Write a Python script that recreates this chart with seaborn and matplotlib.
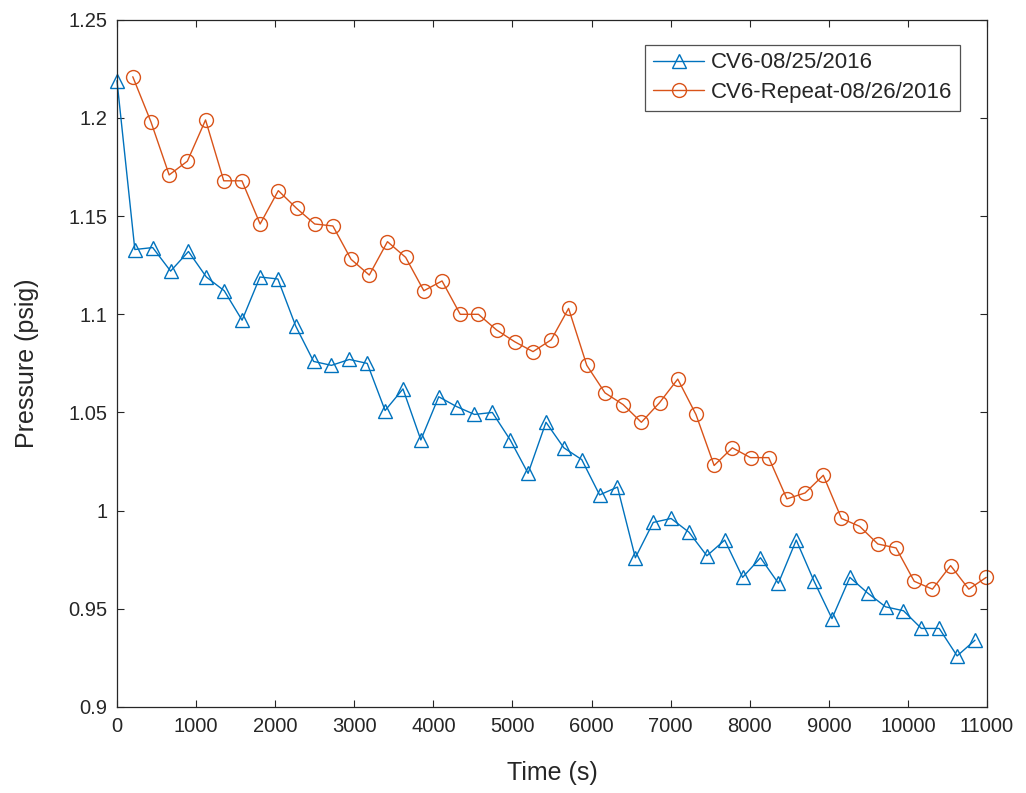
import numpy as np
import pandas as pd
import matplotlib
matplotlib.use("Agg")
import matplotlib.pyplot as plt
import seaborn as sns

# time (s) and pressure (psig)
t_run1 = [0, 226, 452, 678, 904, 1130, 1356, 1582, 1808, 2034, 2260, 2486, 2712,
          2938, 3164, 3390, 3616, 3842, 4068, 4294, 4520, 4746, 4972, 5198, 5424,
          5650, 5876, 6102, 6328, 6554, 6780, 7006, 7232, 7458, 7684, 7910, 8136,
          8362, 8588, 8814, 9040, 9266, 9492, 9718, 9944, 10170, 10396, 10622, 10848]
p_run1 = [1.219, 1.133, 1.134, 1.122, 1.132, 1.119, 1.112, 1.097, 1.119, 1.118,
          1.094, 1.076, 1.074, 1.077, 1.075, 1.051, 1.062, 1.036, 1.058, 1.053,
          1.049, 1.050, 1.036, 1.019, 1.045, 1.032, 1.026, 1.008, 1.012, 0.976,
          0.994, 0.996, 0.989, 0.977, 0.985, 0.966, 0.976, 0.963, 0.985, 0.964,
          0.945, 0.966, 0.958, 0.951, 0.949, 0.940, 0.940, 0.926, 0.934]

t_run2 = [200, 430, 660, 890, 1120, 1350, 1580, 1810, 2040, 2270, 2500, 2730,
          2960, 3190, 3420, 3650, 3880, 4110, 4340, 4570, 4800, 5030, 5260, 5490,
          5710, 5940, 6170, 6400, 6630, 6860, 7090, 7320, 7550, 7780, 8010, 8240,
          8470, 8700, 8930, 9160, 9390, 9620, 9850, 10080, 10310, 10540, 10770, 10990]
p_run2 = [1.221, 1.198, 1.171, 1.178, 1.199, 1.168, 1.168, 1.146, 1.163, 1.154,
          1.146, 1.145, 1.128, 1.120, 1.137, 1.129, 1.112, 1.117, 1.100, 1.100,
          1.092, 1.086, 1.081, 1.087, 1.103, 1.074, 1.060, 1.054, 1.045, 1.055,
          1.067, 1.049, 1.023, 1.032, 1.027, 1.027, 1.006, 1.009, 1.018, 0.996,
          0.992, 0.983, 0.981, 0.964, 0.960, 0.972, 0.960, 0.966]

label_run1 = "CV6-08/25/2016"
label_run2 = "CV6-Repeat-08/26/2016"

sns.set_style("ticks")
plt.rcParams['font.family'] = ['Liberation Sans', 'DejaVu Sans']

fig = plt.figure(figsize=(10.26, 7.93), dpi=100)
ax = fig.add_axes([0.114, 0.1085, 0.848, 0.8665])

blue = "#0072BD"
orange = "#D95319"

df1 = pd.DataFrame({"t": t_run1, "p": p_run1})
df2 = pd.DataFrame({"t": t_run2, "p": p_run2})

sns.lineplot(data=df1, x="t", y="p", ax=ax, color=blue, marker="^", markersize=10,
             markerfacecolor="none", markeredgecolor=blue, markeredgewidth=1.0,
             linewidth=1.0, label=label_run1, clip_on=False)
sns.lineplot(data=df2, x="t", y="p", ax=ax, color=orange, marker="o", markersize=10,
             markerfacecolor="none", markeredgecolor=orange, markeredgewidth=1.0,
             linewidth=1.0, label=label_run2, clip_on=False)

ax.set_xlim(0, 11000)
ax.set_ylim(0.9, 1.25)
ax.set_xticks(range(0, 11001, 1000))
ax.set_yticks([0.9, 0.95, 1.0, 1.05, 1.1, 1.15, 1.2, 1.25])
ax.set_yticklabels(["0.9", "0.95", "1", "1.05", "1.1", "1.15", "1.2", "1.25"])

txt = "#262626"
ax.tick_params(direction="in", length=5, width=0.8, top=True, right=True,
               labelsize=14.5, colors=txt, pad=7)
ax.tick_params(axis="both", colors="#262626", labelcolor=txt)
for s in ax.spines.values():
    s.set_color("#262626")
    s.set_linewidth(0.9)
    s.set_visible(True)

ax.set_xlabel("Time (s)", fontsize=18, color=txt, labelpad=18)
ax.set_ylabel("Pressure (psig)", fontsize=18, color=txt, labelpad=21)

leg = ax.legend(loc="upper right", bbox_to_anchor=(0.969, 0.964), fontsize=16,
                fancybox=False, frameon=True, borderpad=0.35, handlelength=2.3,
                labelspacing=0.4, handletextpad=0.3, borderaxespad=0)
leg.get_frame().set_edgecolor("#262626")
leg.get_frame().set_linewidth(0.9)

fig.savefig("out.png", dpi=100)
